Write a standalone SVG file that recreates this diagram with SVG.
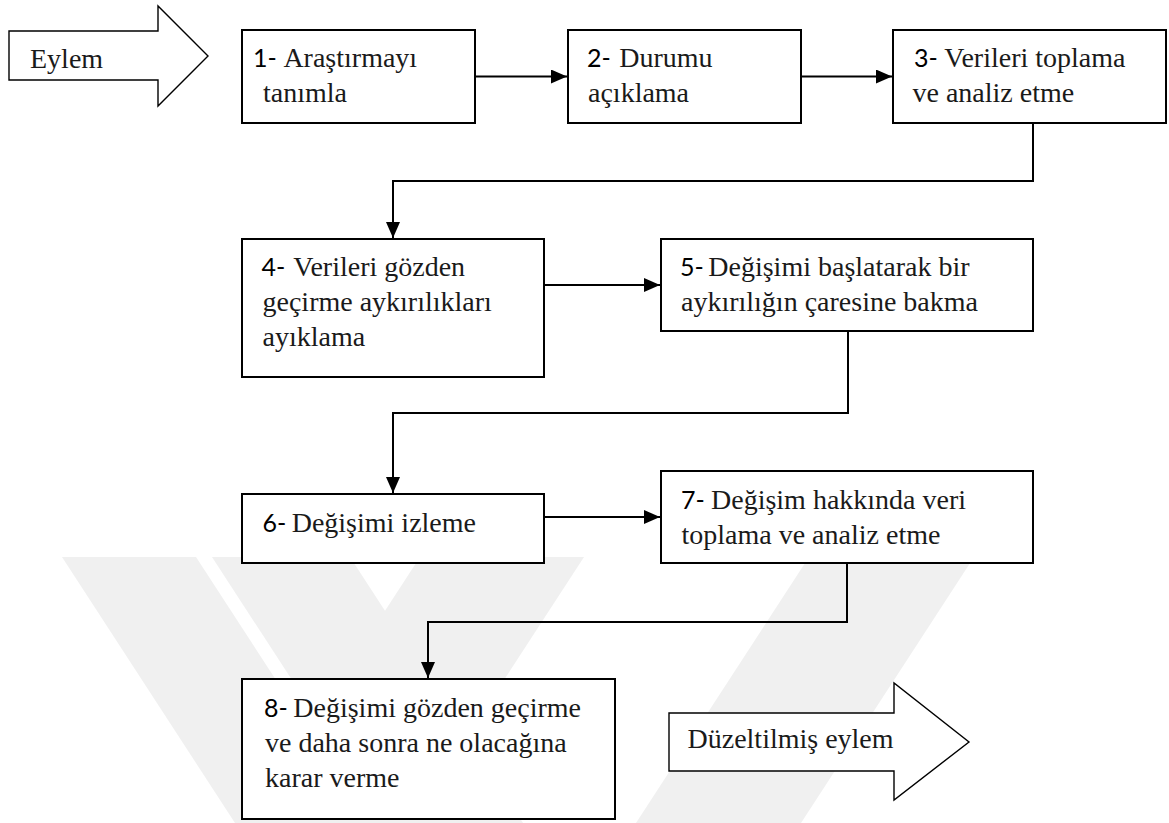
<svg xmlns="http://www.w3.org/2000/svg" width="1169" height="823" viewBox="0 0 1169 823">
  <style>
    .box { fill: #ffffff; stroke: #000000; stroke-width: 2; }
    .big { fill: #ffffff; stroke: #000000; stroke-width: 1.4; stroke-linejoin: miter; }
    .link { fill: none; stroke: #000000; stroke-width: 2; marker-end: url(#head); }
    .t { font-family: 'Liberation Serif', 'Times New Roman', serif; font-size: 28px; fill: #1a1a1a; }
    .n { font-family: Lato, 'Liberation Sans', sans-serif; font-size: 25px; fill: #000000; }
    .wm { fill: #f0f0f0; }
  </style>
  <defs>
    <marker id="head" markerUnits="userSpaceOnUse" markerWidth="16" markerHeight="14" refX="16" refY="7" orient="auto">
      <path d="M0,0 L16,7 L0,14 Z" fill="#000000"/>
    </marker>
  </defs>

  <rect width="1169" height="823" fill="#ffffff"/>

  <!-- faint background emblem -->
  <g id="emblem">
    <polygon class="wm" points="62,557 196,557 369,823 235,823"/>
    <polygon class="wm" points="212,557 350,557 523,823 385,823"/>
    <polygon class="wm" points="420,557 584,557 411,823 247,823"/>
    <polygon class="wm" points="809,557 974,557 801,823 636,823"/>
    <polygon class="wm" points="720,798 736,798 752,823 704,823"/>
  </g>

  <!-- connectors -->
  <g id="connectors">
    <path class="link" d="M475,76.5 H567"/>
    <path class="link" d="M801,76.5 H892"/>
    <path class="link" d="M1033,123 V181 H393 V238"/>
    <path class="link" d="M544,285 H660"/>
    <path class="link" d="M848,331 V413 H393 V493"/>
    <path class="link" d="M544,517 H660"/>
    <path class="link" d="M847,563 V622 H428 V678"/>
  </g>

  <g id="start">
    <polygon class="big" points="9,31 158,31 158,6 208,56 158,106 158,80 9,80"/>
    <text class="t" x="30" y="68">Eylem</text>
  </g>

  <g id="step1">
    <rect class="box" x="242" y="30" width="233" height="93"/>
    <text x="253" y="67"><tspan class="n">1-</tspan><tspan class="t" x="283.4">Araştırmayı</tspan></text>
    <text class="t" x="263" y="101.5">tanımla</text>
  </g>

  <g id="step2">
    <rect class="box" x="568" y="30" width="233" height="93"/>
    <text x="587" y="67"><tspan class="n">2-</tspan><tspan class="t" x="619.3">Durumu</tspan></text>
    <text class="t" x="588" y="101.5">açıklama</text>
  </g>

  <g id="step3">
    <rect class="box" x="893" y="30" width="273" height="93"/>
    <text x="914" y="67"><tspan class="n">3-</tspan><tspan class="t" x="944.3">Verileri toplama</tspan></text>
    <text class="t" x="912.5" y="101.5">ve analiz etme</text>
  </g>

  <g id="step4">
    <rect class="box" x="242" y="239" width="302" height="138"/>
    <text x="261.5" y="276"><tspan class="n">4-</tspan><tspan class="t" x="293.3">Verileri gözden</tspan></text>
    <text class="t" x="262.5" y="311">geçirme aykırılıkları</text>
    <text class="t" x="262.5" y="346">ayıklama</text>
  </g>

  <g id="step5">
    <rect class="box" x="661" y="239" width="372" height="92"/>
    <text x="680" y="276"><tspan class="n">5-</tspan><tspan class="t" x="708.3">Değişimi başlatarak bir</tspan></text>
    <text class="t" x="681" y="311">aykırılığın çaresine bakma</text>
  </g>

  <g id="step6">
    <rect class="box" x="242" y="494" width="302" height="69"/>
    <text x="262.5" y="531.5"><tspan class="n">6-</tspan><tspan class="t" x="291.7">Değişimi izleme</tspan></text>
  </g>

  <g id="step7">
    <rect class="box" x="661" y="471" width="372" height="92"/>
    <text x="681" y="509"><tspan class="n">7-</tspan><tspan class="t" x="711">Değişim hakkında veri</tspan></text>
    <text class="t" x="681.5" y="544">toplama ve analiz etme</text>
  </g>

  <g id="step8">
    <rect class="box" x="242" y="679" width="373" height="140"/>
    <text x="264" y="717"><tspan class="n">8-</tspan><tspan class="t" x="293.3">Değişimi gözden geçirme</tspan></text>
    <text class="t" x="265" y="752">ve daha sonra ne olacağına</text>
    <text class="t" x="265" y="787">karar verme</text>
  </g>

  <g id="end">
    <polygon class="big" points="669,713 894,713 894,683 969,742 894,800 894,771 669,771"/>
    <text class="t" x="687.5" y="748">Düzeltilmiş eylem</text>
  </g>
</svg>
